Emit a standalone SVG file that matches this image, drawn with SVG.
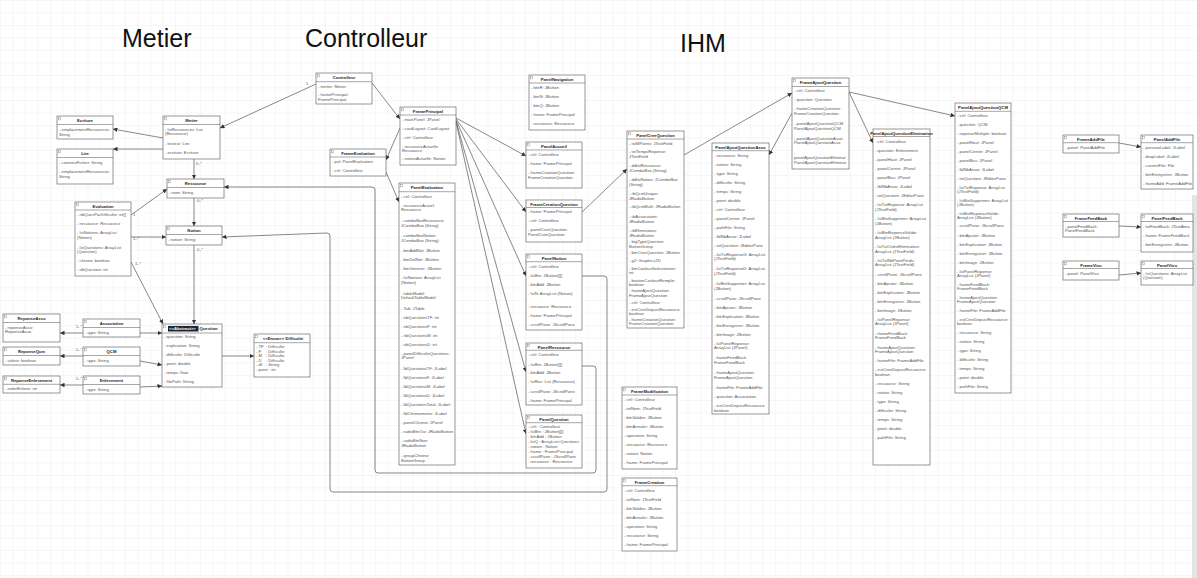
<svg xmlns="http://www.w3.org/2000/svg" width="1197" height="578" viewBox="0 0 1197 578">
<defs>
<pattern id="grid" width="12.5" height="12.5" patternUnits="userSpaceOnUse"><path d="M12.5 0H0V12.5" fill="none" stroke="#e2e2e2" stroke-width="0.6"/></pattern>
<marker id="ar" viewBox="0 0 6 6" refX="6" refY="3" markerWidth="4.5" markerHeight="4.5" markerUnits="userSpaceOnUse" orient="auto"><path d="M0,0L6,3L0,6z" fill="#333"/></marker>
</defs>
<style>
.n rect.b{fill:#fff;stroke:#6b6b6b;stroke-width:0.7}
.n line{stroke:#6b6b6b;stroke-width:0.6}
.n rect.i{fill:none;stroke:#777;stroke-width:0.4}
.h{font-family:"Liberation Sans",Arial,sans-serif;font-size:4.2px;font-weight:bold;fill:#222;text-anchor:middle}
.a{font-family:"Liberation Sans",Arial,sans-serif;font-size:4.2px;fill:#555}
.t{font-family:"Liberation Sans",Arial,sans-serif;font-size:25px;fill:#111}
.c path{fill:none;stroke:#555;stroke-width:0.7;marker-end:url(#ar)}
.l{font-family:"Liberation Sans",Arial,sans-serif;font-size:4px;fill:#555}
</style>
<rect width="1197" height="578" fill="#fff"/>
<rect width="1197" height="578" fill="url(#grid)"/>
<rect x="1192" y="195" width="5" height="383" fill="#e4e4e4"/>

<g id="titles">
<text class="t" x="122" y="47">Metier</text>
<text class="t" x="305" y="47">Controlleur</text>
<text class="t" x="680" y="52">IHM</text>
</g>

<g id="connectors" class="c">
<path d="M316,84L220,128"/>
<path d="M163,138L113,129"/>
<path d="M163,149L113,149"/>
<path d="M194,159L194,179"/>
<path d="M194,198L194,226"/>
<path d="M131,215L167,189"/>
<path d="M131,237L166,237"/>
<path d="M131,262L163,324"/>
<path d="M194,245L194,324"/>
<path d="M83,333L60,333"/>
<path d="M83,356L60,356"/>
<path d="M83,385L60,385"/>
<path d="M140,333L162,333"/>
<path d="M140,361L162,365"/>
<path d="M140,387L162,386"/>
<path d="M222,356L254,356"/>
<path d="M372,83L400,119"/>
<path d="M400,128L386,160"/>
<path d="M386,172L399,202"/>
<path d="M456,118L526,156"/>
<path d="M456,119L526,212"/>
<path d="M456,120L526,276"/>
<path d="M456,121L526,372"/>
<path d="M456,122L526,434"/>
<path d="M582,212L627,169"/>
<path d="M684,155L792,93"/>
<path d="M792,113L769,155"/>
<path d="M849,92L873,143"/>
<path d="M849,92L955,116"/>
<path d="M1119,143L1141,147"/>
<path d="M1119,226L1141,227"/>
<path d="M1119,275L1141,273"/>
<path d="M582,276L604,276Q607,276 607,279L607,489Q607,492 604,492L333,492Q330,492 330,489L330,236Q330,233 327,233L222,237"/>
<path d="M582,366L593,366Q596,366 596,369L596,470Q596,473 593,473L378,473Q375,473 375,470L375,190Q375,187 372,187L224,187"/>
<text class="l" x="306" y="85">1</text>
<text class="l" x="196" y="165">0..*</text>
<text class="l" x="197" y="202">0..*</text>
<text class="l" x="133" y="216">1</text>
<text class="l" x="133" y="240">1..*</text>
<text class="l" x="135" y="265">1..*</text>
<text class="l" x="197" y="251">0..*</text>
<text class="l" x="76" y="328">1..*</text>
<text class="l" x="76" y="351">1..*</text>
<text class="l" x="76" y="380">1..*</text>
</g>

<g id="ecriture" class="n" transform="translate(57,116)"><rect class="b" width="56" height="23"/><line x1="0" y1="8.5" x2="56" y2="8.5"/><rect class="i" x="1.5" y="1.5" width="2" height="2.4"/><text class="h" x="28" y="6.2">Ecriture</text><text class="a" y="14.8"><tspan x="2">- emplacementRessources:</tspan><tspan x="2" dy="4.7">String</tspan></text></g>

<g id="lire" class="n" transform="translate(57,149)"><rect class="b" width="56" height="35"/><line x1="0" y1="8.5" x2="56" y2="8.5"/><rect class="i" x="1.5" y="1.5" width="2" height="2.4"/><text class="h" x="28" y="6.2">Lire</text><text class="a" y="14.8"><tspan x="2">- contenuFichier: String</tspan><tspan x="2" dy="9">- emplacementRessources:</tspan><tspan x="2" dy="4.7">String</tspan></text></g>

<g id="metier" class="n" transform="translate(163,116)"><rect class="b" width="57" height="43"/><line x1="0" y1="8.5" x2="57" y2="8.5"/><rect class="i" x="1.5" y="1.5" width="2" height="2.4"/><text class="h" x="28.5" y="6.2">Metier</text><text class="a" y="14.5"><tspan x="2">- lstRessources: List</tspan><tspan x="2" dy="4.7">(Ressource)</tspan><tspan x="2" dy="10">- lecteur: Lire</tspan><tspan x="2" dy="9">- ecriture: Ecriture</tspan></text></g>

<g id="ressource" class="n" transform="translate(167,179)"><rect class="b" width="57" height="19"/><line x1="0" y1="8.5" x2="57" y2="8.5"/><rect class="i" x="1.5" y="1.5" width="2" height="2.4"/><text class="h" x="28.5" y="6.2">Ressource</text><text class="a" y="15"><tspan x="2">- nom: String</tspan></text></g>

<g id="notion" class="n" transform="translate(166,226)"><rect class="b" width="56" height="19"/><line x1="0" y1="8.5" x2="56" y2="8.5"/><rect class="i" x="1.5" y="1.5" width="2" height="2.4"/><text class="h" x="28" y="6.2">Notion</text><text class="a" y="15"><tspan x="2">- notion: String</tspan></text></g>

<g id="evaluation" class="n" transform="translate(75,202)"><rect class="b" width="56" height="74"/><line x1="0" y1="8" x2="56" y2="8"/><rect class="i" x="1.5" y="1.5" width="2" height="2.4"/><text class="h" x="28" y="6">Evaluation</text><text class="a" y="14"><tspan x="2">- nbQuesParDifficulte: int[]</tspan><tspan x="2" dy="9">- ressource: Ressource</tspan><tspan x="2" dy="9">- lstNotions: ArrayList</tspan><tspan x="2" dy="4.7">(Notion)</tspan><tspan x="2" dy="10">- lstQuestions: ArrayList</tspan><tspan x="2" dy="4.7">(Question)</tspan><tspan x="2" dy="9">- chrono: boolean</tspan><tspan x="2" dy="9">- nbQuestion: int</tspan></text></g>

<g id="question" class="n" transform="translate(162,324)"><rect class="b" width="60" height="63"/><line x1="0" y1="9" x2="60" y2="9"/><rect class="i" x="1.5" y="1.5" width="2" height="2.4"/><rect x="6" y="1.9" width="30.5" height="5.6" fill="#1d2433"/><text class="h" x="7" y="6.3" style="text-anchor:start;fill:#fff">&lt;&lt;Abstract&gt;&gt;</text><text class="h" x="37.5" y="6.3" style="text-anchor:start">Question</text><text class="a" y="14"><tspan x="2">- question: String</tspan><tspan x="2" dy="9">- explication: String</tspan><tspan x="2" dy="9">- difficulte: Difficulte</tspan><tspan x="2" dy="9">- point: double</tspan><tspan x="2" dy="9">- temps: float</tspan><tspan x="2" dy="9">- filePath: String</tspan></text></g>

<g id="difficulte" class="n" transform="translate(254,334)"><rect class="b" width="56" height="43"/><line x1="0" y1="8.7" x2="56" y2="8.7"/><rect class="i" x="1.5" y="1.5" width="2" height="2.4"/><text class="h" x="29" y="6.2">&lt;&lt;Enum&gt;&gt; Difficulte</text><text class="a" y="14.3"><tspan x="2">- TF</tspan><tspan x="2" dy="4.5">- F</tspan><tspan x="2" dy="4.5">- M</tspan><tspan x="2" dy="4.5">- D</tspan><tspan x="2" dy="4.5">- df</tspan><tspan x="2" dy="4.5">- point : int</tspan></text><text class="a" y="14.3"><tspan x="12">: Difficulte</tspan><tspan x="12" dy="4.5">: Difficulte</tspan><tspan x="12" dy="4.5">: Difficulte</tspan><tspan x="12" dy="4.5">: Difficulte</tspan><tspan x="12" dy="4.5">: String</tspan></text></g>

<g id="reponseAsso" class="n" transform="translate(3,314)"><rect class="b" width="57" height="28"/><line x1="0" y1="8.5" x2="57" y2="8.5"/><rect class="i" x="1.5" y="1.5" width="2" height="2.4"/><text class="h" x="28.5" y="6.2">ReponseAsso</text><text class="a" y="14.5"><tspan x="2">- reponseAsso:</tspan><tspan x="2" dy="4.7">ReponseAsso</tspan></text></g>

<g id="reponseQcm" class="n" transform="translate(3,347)"><rect class="b" width="57" height="18"/><line x1="0" y1="8.5" x2="57" y2="8.5"/><rect class="i" x="1.5" y="1.5" width="2" height="2.4"/><text class="h" x="28.5" y="6.2">ReponseQcm</text><text class="a" y="14.5"><tspan x="2">- valeur: boolean</tspan></text></g>

<g id="reponseEnlevement" class="n" transform="translate(3,376)"><rect class="b" width="57" height="17"/><line x1="0" y1="8.3" x2="57" y2="8.3"/><rect class="i" x="1.5" y="1.5" width="2" height="2.4"/><text class="h" x="28.5" y="6.1">ReponseEnlevement</text><text class="a" y="14"><tspan x="2">- ordreEnleve: int</tspan></text></g>

<g id="association" class="n" transform="translate(83,319)"><rect class="b" width="57" height="18"/><line x1="0" y1="8.5" x2="57" y2="8.5"/><rect class="i" x="1.5" y="1.5" width="2" height="2.4"/><text class="h" x="28.5" y="6.2">Association</text><text class="a" y="14.5"><tspan x="2">- type: String</tspan></text></g>

<g id="qcm" class="n" transform="translate(83,347)"><rect class="b" width="57" height="19"/><line x1="0" y1="8.5" x2="57" y2="8.5"/><rect class="i" x="1.5" y="1.5" width="2" height="2.4"/><text class="h" x="28.5" y="6.2">QCM</text><text class="a" y="14.8"><tspan x="2">- type: String</tspan></text></g>

<g id="enlevement" class="n" transform="translate(83,376)"><rect class="b" width="57" height="18"/><line x1="0" y1="8.5" x2="57" y2="8.5"/><rect class="i" x="1.5" y="1.5" width="2" height="2.4"/><text class="h" x="28.5" y="6.2">Enlevement</text><text class="a" y="14.5"><tspan x="2">- type: String</tspan></text></g>

<g id="controlleur" class="n" transform="translate(316,73)"><rect class="b" width="56" height="31"/><line x1="0" y1="8.7" x2="56" y2="8.7"/><rect class="i" x="1.5" y="1.5" width="2" height="2.4"/><text class="h" x="28" y="6.2">Controlleur</text><text class="a" y="14.7"><tspan x="2">- metier: Metier</tspan><tspan x="2" dy="8.3">- framePrincipal:</tspan><tspan x="2" dy="4.7">FramePrincipal</tspan></text></g>

<g id="framePrincipal" class="n" transform="translate(400,107)"><rect class="b" width="56" height="58"/><line x1="0" y1="8" x2="56" y2="8"/><rect class="i" x="1.5" y="1.5" width="2" height="2.4"/><text class="h" x="28" y="6">FramePrincipal</text><text class="a" y="14"><tspan x="2">- mainPanel: JPanel</tspan><tspan x="2" dy="9">- cardLayout: CardLayout</tspan><tspan x="2" dy="9">- ctrl: Controlleur</tspan><tspan x="2" dy="8.5">- ressourceActuelle:</tspan><tspan x="2" dy="4.7">Ressource</tspan><tspan x="2" dy="8.2">- notionActuelle: Notion</tspan></text></g>

<g id="frameEvaluation" class="n" transform="translate(330,149)"><rect class="b" width="56" height="27"/><line x1="0" y1="8" x2="56" y2="8"/><rect class="i" x="1.5" y="1.5" width="2" height="2.4"/><text class="h" x="28" y="6">FrameEvaluation</text><text class="a" y="14.3"><tspan x="2">- pal: PanelEvaluation</tspan><tspan x="2" dy="8.4">- ctrl: Controlleur</tspan></text></g>

<g id="panelEvaluation" class="n" transform="translate(399,183)"><rect class="b" width="56" height="282"/><line x1="0" y1="8.7" x2="56" y2="8.7"/><rect class="i" x="1.5" y="1.5" width="2" height="2.4"/><text class="h" x="28" y="6.3">PanelEvaluation</text><text class="a" y="14.7"><tspan x="2">- ctrl: Controlleur</tspan><tspan x="2" dy="9">- ressourceActuel:</tspan><tspan x="2" dy="4.7">Ressource</tspan><tspan x="2" dy="10.5">- comboBoxRessource:</tspan><tspan x="2" dy="4.7">JComboBox (String)</tspan><tspan x="2" dy="10.5">- comboBoxNotion:</tspan><tspan x="2" dy="4.7">JComboBox (String)</tspan><tspan x="2" dy="10.5">- btnAddNot: JButton</tspan><tspan x="2" dy="9">- btnDelNot: JButton</tspan><tspan x="2" dy="9">- btnGenerer: JButton</tspan><tspan x="2" dy="9">- lstNotions: ArrayList</tspan><tspan x="2" dy="4.7">(Notion)</tspan><tspan x="2" dy="10.5">- tableModel:</tspan><tspan x="2" dy="4.7">DefaultTableModel</tspan><tspan x="2" dy="10.5">- Tab: JTable</tspan><tspan x="2" dy="9">- nbQuestionsTF: int</tspan><tspan x="2" dy="9">- nbQuestionsF: int</tspan><tspan x="2" dy="9">- nbQuestionsM: int</tspan><tspan x="2" dy="9">- nbQuestionsD: int</tspan><tspan x="2" dy="9">- panelDifficulteQuestions:</tspan><tspan x="2" dy="4.7">JPanel</tspan><tspan x="2" dy="10.5">- lblQuestionsTF: JLabel</tspan><tspan x="2" dy="9">- lblQuestionsF: JLabel</tspan><tspan x="2" dy="9">- lblQuestionsM: JLabel</tspan><tspan x="2" dy="9">- lblQuestionsD: JLabel</tspan><tspan x="2" dy="9">- lblQuestionsTotal: JLabel</tspan><tspan x="2" dy="9">- lblChronometre: JLabel</tspan><tspan x="2" dy="9">- panelChrono: JPanel</tspan><tspan x="2" dy="9">- radioBtnOui: JRadioButton</tspan><tspan x="2" dy="9">- radioBtnNon:</tspan><tspan x="2" dy="4.7">JRadioButton</tspan><tspan x="2" dy="10.5">- groupChrono:</tspan><tspan x="2" dy="4.7">ButtonGroup</tspan></text></g>

<g id="panelNavigation" class="n" transform="translate(529,75)"><rect class="b" width="56" height="55"/><line x1="0" y1="8" x2="56" y2="8"/><rect class="i" x="1.5" y="1.5" width="2" height="2.4"/><text class="h" x="28" y="6">PanelNavigation</text><text class="a" y="14"><tspan x="2">- btnR: JButton</tspan><tspan x="2" dy="9">- btnN: JButton</tspan><tspan x="2" dy="9">- btnQ: JButton</tspan><tspan x="2" dy="9">- frame: FramePrincipal</tspan><tspan x="2" dy="9">- ressource: Ressource</tspan></text></g>

<g id="panelAccueil" class="n" transform="translate(526,142)"><rect class="b" width="56" height="46"/><line x1="0" y1="8" x2="56" y2="8"/><rect class="i" x="1.5" y="1.5" width="2" height="2.4"/><text class="h" x="28" y="6">PanelAccueil</text><text class="a" y="14"><tspan x="2">- ctrl: Controlleur</tspan><tspan x="2" dy="9">- frame: FramePrincipal</tspan><tspan x="2" dy="9">- frameCreationQuestion:</tspan><tspan x="2" dy="4.7">FrameCreationQuestion</tspan></text></g>

<g id="frameCreationQuestion" class="n" transform="translate(526,200)"><rect class="b" width="56" height="42"/><line x1="0" y1="7.5" x2="56" y2="7.5"/><text class="h" x="28" y="5.6">FrameCreationQuestion</text><text class="a" y="12.7"><tspan x="2">- frame: FramePrincipal</tspan><tspan x="2" dy="9.3">- ctrl: Controlleur</tspan><tspan x="2" dy="9">- panelCreeQuestion:</tspan><tspan x="2" dy="4.7">PanelCreeQuestion</tspan></text></g>

<g id="panelNotion" class="n" transform="translate(526,254)"><rect class="b" width="56" height="76"/><line x1="0" y1="7.7" x2="56" y2="7.7"/><rect class="i" x="1.5" y="1.5" width="2" height="2.4"/><text class="h" x="28" y="5.8">PanelNotion</text><text class="a" y="13.7"><tspan x="2">- ctrl: Controlleur</tspan><tspan x="2" dy="9">- lstBtn: JButton[][]</tspan><tspan x="2" dy="9">- btnAdd: JButton</tspan><tspan x="2" dy="9.3">- lstN: ArrayList (Notion)</tspan><tspan x="2" dy="13.3">- ressource: Ressource</tspan><tspan x="2" dy="8.4">- frame: FramePrincipal</tspan><tspan x="2" dy="9.3">- scrollPane: JScrollPane</tspan></text></g>

<g id="panelRessource" class="n" transform="translate(526,343)"><rect class="b" width="56" height="62"/><line x1="0" y1="7.3" x2="56" y2="7.3"/><rect class="i" x="1.5" y="1.5" width="2" height="2.4"/><text class="h" x="28" y="5.6">PanelRessource</text><text class="a" y="12.7"><tspan x="2">- ctrl: Controlleur</tspan><tspan x="2" dy="10">- lstBtn: JButton[][]</tspan><tspan x="2" dy="8.6">- btnAdd: JButton</tspan><tspan x="2" dy="9">- lstRes: List (Ressource)</tspan><tspan x="2" dy="9.4">- scrollPane: JScrollPane</tspan><tspan x="2" dy="9">- frame: FramePrincipal</tspan></text></g>

<g id="panelQuestion" class="n" transform="translate(526,415)"><rect class="b" width="56" height="53"/><line x1="0" y1="7.7" x2="56" y2="7.7"/><rect class="i" x="1.5" y="1.5" width="2" height="2.4"/><text class="h" x="28" y="5.8">PanelQuestion</text><text class="a" y="13.3"><tspan x="2">- ctrl : Controlleur</tspan><tspan x="2" dy="5">- lstBtn : JButton[][]</tspan><tspan x="2" dy="5">- btnAdd : JButton</tspan><tspan x="2" dy="5">- lstQ : ArrayList&lt;Question&gt;</tspan><tspan x="2" dy="5">- notion : Notion</tspan><tspan x="2" dy="5">- frame : FramePrincipal</tspan><tspan x="2" dy="5">- scrollPane : JScrollPane</tspan><tspan x="2" dy="5">- ressource : Ressource</tspan></text></g>

<g id="panelCreeQuestion" class="n" transform="translate(627,131)"><rect class="b" width="57" height="197"/><line x1="0" y1="8" x2="57" y2="8"/><rect class="i" x="1.5" y="1.5" width="2" height="2.4"/><text class="h" x="28.5" y="6">PanelCreeQuestion</text><text class="a" y="14"><tspan x="2">- txtMPoints: JTextField</tspan><tspan x="2" dy="8.3">- txtTempsReponse:</tspan><tspan x="2" dy="4.8">JTextField</tspan><tspan x="2" dy="8.6">- ddlstRessource:</tspan><tspan x="2" dy="4.8">JComboBox (String)</tspan><tspan x="2" dy="9.5">- ddlstNotion: JComboBox</tspan><tspan x="2" dy="4.7">(String)</tspan><tspan x="2" dy="9.3">- rbQcmUnique:</tspan><tspan x="2" dy="4.5">JRadioButton</tspan><tspan x="2" dy="8.8">- rbQcmMulti: JRadioButton</tspan><tspan x="2" dy="9.4">- rbAssociation:</tspan><tspan x="2" dy="4.8">JRadioButton</tspan><tspan x="2" dy="9.5">- rbElimination:</tspan><tspan x="2" dy="4.7">JRadioButton</tspan><tspan x="2" dy="6.3">- btgTypeQuestion:</tspan><tspan x="2" dy="4.7">ButtonGroup</tspan><tspan x="2" dy="6.6">- btnCreeQuestion: JButton</tspan><tspan x="2" dy="7.2">- g2: Graphics2D</tspan><tspan x="2" dy="8">- btnCouleurSelectionner:</tspan><tspan x="2" dy="4.7">int</tspan><tspan x="2" dy="7.3">- boutonCouleurRemplie:</tspan><tspan x="2" dy="4.7">boolean</tspan><tspan x="2" dy="5.8">- frameAjoutQuestion:</tspan><tspan x="2" dy="4.7">FrameAjoutQuestion</tspan><tspan x="2" dy="6.8">- ctrl: Controlleur</tspan><tspan x="2" dy="7">- estCreeDepuisRessource:</tspan><tspan x="2" dy="4.7">boolean</tspan><tspan x="2" dy="5.3">- frameCreationQuestion:</tspan><tspan x="2" dy="4.5">FrameCreationQuestion</tspan></text></g>

<g id="frameModification" class="n" transform="translate(622,387)"><rect class="b" width="55" height="82"/><line x1="0" y1="8" x2="55" y2="8"/><rect class="i" x="1.5" y="1.5" width="2" height="2.4"/><text class="h" x="27.5" y="6">FrameModification</text><text class="a" y="14"><tspan x="2">- ctrl: Controlleur</tspan><tspan x="2" dy="9">- txtNom: JTextField</tspan><tspan x="2" dy="9">- btnValider: JButton</tspan><tspan x="2" dy="9">- btnAnnuler: JButton</tspan><tspan x="2" dy="9">- operation: String</tspan><tspan x="2" dy="9">- ressource: Ressource</tspan><tspan x="2" dy="9">- notion: Notion</tspan><tspan x="2" dy="9">- frame: FramePrincipal</tspan></text></g>

<g id="frameCreation" class="n" transform="translate(622,478)"><rect class="b" width="55" height="73"/><line x1="0" y1="7.7" x2="55" y2="7.7"/><rect class="i" x="1.5" y="1.5" width="2" height="2.4"/><text class="h" x="27.5" y="5.8">FrameCreation</text><text class="a" y="13.5"><tspan x="2">- ctrl: Controlleur</tspan><tspan x="2" dy="9">- txtNom: JTextField</tspan><tspan x="2" dy="9">- btnValider: JButton</tspan><tspan x="2" dy="9">- btnAnnuler: JButton</tspan><tspan x="2" dy="9">- operation: String</tspan><tspan x="2" dy="9">- ressource: String</tspan><tspan x="2" dy="9">- frame: FramePrincipal</tspan></text></g>

<g id="frameAjoutQuestion" class="n" transform="translate(792,78)"><rect class="b" width="57" height="91"/><line x1="0" y1="8.5" x2="57" y2="8.5"/><rect class="i" x="1.5" y="1.5" width="2" height="2.4"/><text class="h" x="28.5" y="6.2">FrameAjoutQuestion</text><text class="a" y="14.3"><tspan x="2">- ctrl: Controlleur</tspan><tspan x="2" dy="9">- question: Question</tspan><tspan x="2" dy="9">- frameCreationQuestion:</tspan><tspan x="2" dy="4.7">FrameCreationQuestion</tspan><tspan x="2" dy="10">- panelAjoutQuestionQCM:</tspan><tspan x="2" dy="4.7">PanelAjoutQuestionQCM</tspan><tspan x="2" dy="10">- panelAjoutQuestionAsso:</tspan><tspan x="2" dy="4.7">PanelAjoutQuestionAsso</tspan><tspan x="2" dy="10">-</tspan><tspan x="2" dy="4.7">panelAjoutQuestionEliminat</tspan><tspan x="2" dy="4.7">PanelAjoutQuestionEliminat</tspan></text></g>

<g id="panelAjoutQuestionAsso" class="n" transform="translate(712,143)"><rect class="b" width="57" height="271"/><line x1="0" y1="7.7" x2="57" y2="7.7"/><text class="h" x="28.5" y="5.8">PanelAjoutQuestionAsso</text><text class="a" y="13.7"><tspan x="2">- ressource: String</tspan><tspan x="2" dy="9">- notion: String</tspan><tspan x="2" dy="9">- type: String</tspan><tspan x="2" dy="9">- difficulte: String</tspan><tspan x="2" dy="9">- temps: String</tspan><tspan x="2" dy="9">- point: double</tspan><tspan x="2" dy="9">- ctrl: Controlleur</tspan><tspan x="2" dy="9">- panelCentre: JPanel</tspan><tspan x="2" dy="9">- pathFile: String</tspan><tspan x="2" dy="9">- lblNbAnsw: JLabel</tspan><tspan x="2" dy="9">- txtQuestion: JEditorPane</tspan><tspan x="2" dy="9">- lstTxtReponseG: ArrayList</tspan><tspan x="2" dy="4.7">(JTextField)</tspan><tspan x="2" dy="10">- lstTxtReponseD: ArrayList</tspan><tspan x="2" dy="4.7">(JTextField)</tspan><tspan x="2" dy="10">- lstBtnSupprimer: ArrayList</tspan><tspan x="2" dy="4.7">(JButton)</tspan><tspan x="2" dy="10">- scrollPane: JScrollPane</tspan><tspan x="2" dy="9">- btnAjouter: JButton</tspan><tspan x="2" dy="9">- btnExplication: JButton</tspan><tspan x="2" dy="9">- btnEnregistrer: JButton</tspan><tspan x="2" dy="9">- btnImage: JButton</tspan><tspan x="2" dy="9">- lstPanelReponse:</tspan><tspan x="2" dy="4.7">ArrayList (JPanel)</tspan><tspan x="2" dy="10">- frameFeedBack:</tspan><tspan x="2" dy="4.7">FrameFeedBack</tspan><tspan x="2" dy="10">- frameAjoutQuestion:</tspan><tspan x="2" dy="4.7">FrameAjoutQuestion</tspan><tspan x="2" dy="10">- frameFile: FrameAddFile</tspan><tspan x="2" dy="9">- question: Association</tspan><tspan x="2" dy="9">- estCreeDepuisRessource:</tspan><tspan x="2" dy="4.7">boolean</tspan></text></g>

<g id="panelAjoutQuestionElimination" class="n" transform="translate(873,129)"><rect class="b" width="57" height="336"/><line x1="0" y1="7.5" x2="57" y2="7.5"/><text class="h" x="28.5" y="5.7">PanelAjoutQuestionElimination</text><text class="a" y="14.3"><tspan x="2">- ctrl: Controlleur</tspan><tspan x="2" dy="9">- question: Enlevement</tspan><tspan x="2" dy="9">- panelHaut: JPanel</tspan><tspan x="2" dy="9">- panelCentre: JPanel</tspan><tspan x="2" dy="9">- panelBas: JPanel</tspan><tspan x="2" dy="9">- lblNbAnsw: JLabel</tspan><tspan x="2" dy="9">- txtQuestion: JEditorPane</tspan><tspan x="2" dy="9">- lstTxtReponse: ArrayList</tspan><tspan x="2" dy="4.5">(JTextField)</tspan><tspan x="2" dy="9.4">- lstBtnSupprimer: ArrayList</tspan><tspan x="2" dy="4.5">(JButton)</tspan><tspan x="2" dy="9.4">- lstBtnReponseValide:</tspan><tspan x="2" dy="4.5">ArrayList (JButton)</tspan><tspan x="2" dy="9.4">- lstTxtOrdreElimination:</tspan><tspan x="2" dy="4.5">ArrayList (JTextField)</tspan><tspan x="2" dy="9.4">- lstTxtNbPointPerdu:</tspan><tspan x="2" dy="4.5">ArrayList (JTextField)</tspan><tspan x="2" dy="9.4">- scrollPane: JScrollPane</tspan><tspan x="2" dy="9">- btnAjouter: JButton</tspan><tspan x="2" dy="9">- btnExplication: JButton</tspan><tspan x="2" dy="9">- btnEnregistrer: JButton</tspan><tspan x="2" dy="9">- btnImage: JButton</tspan><tspan x="2" dy="9">- lstPanelReponse:</tspan><tspan x="2" dy="4.5">ArrayList (JPanel)</tspan><tspan x="2" dy="9.4">- frameFeedBack:</tspan><tspan x="2" dy="4.5">FrameFeedBack</tspan><tspan x="2" dy="9.4">- frameAjoutQuestion:</tspan><tspan x="2" dy="4.5">FrameAjoutQuestion</tspan><tspan x="2" dy="9.4">- frameFile: FrameAddFile</tspan><tspan x="2" dy="9">- estCreeDepuisRessource:</tspan><tspan x="2" dy="4.5">boolean</tspan><tspan x="2" dy="9.4">- ressource: String</tspan><tspan x="2" dy="9">- notion: String</tspan><tspan x="2" dy="9">- type: String</tspan><tspan x="2" dy="9">- difficulte: String</tspan><tspan x="2" dy="9">- temps: String</tspan><tspan x="2" dy="9">- point: double</tspan><tspan x="2" dy="9">- pathFile: String</tspan></text></g>

<g id="panelAjoutQuestionQCM" class="n" transform="translate(955,103)"><rect class="b" width="56" height="290"/><line x1="0" y1="8.3" x2="56" y2="8.3"/><text class="h" x="28" y="6">PanelAjoutQuestionQCM</text><text class="a" y="13.7"><tspan x="2">- ctrl: Controlleur</tspan><tspan x="2" dy="9">- question: QCM</tspan><tspan x="2" dy="9">- reponseMultiple: boolean</tspan><tspan x="2" dy="9">- panelHaut: JPanel</tspan><tspan x="2" dy="9">- panelCentre: JPanel</tspan><tspan x="2" dy="9">- panelBas: JPanel</tspan><tspan x="2" dy="9">- lblNbAnsw: JLabel</tspan><tspan x="2" dy="9">- txtQuestion: JEditorPane</tspan><tspan x="2" dy="9">- lstTxtReponse: ArrayList</tspan><tspan x="2" dy="4.3">(JTextField)</tspan><tspan x="2" dy="8.6">- lstBtnSupprimer: ArrayList</tspan><tspan x="2" dy="4.3">(JButton)</tspan><tspan x="2" dy="8.6">- lstBtnReponseValide:</tspan><tspan x="2" dy="4.3">ArrayList (JButton)</tspan><tspan x="2" dy="8.6">- scrollPane: JScrollPane</tspan><tspan x="2" dy="9.1">- btnAjouter: JButton</tspan><tspan x="2" dy="9.1">- btnExplication: JButton</tspan><tspan x="2" dy="9.1">- btnEnregistrer: JButton</tspan><tspan x="2" dy="9.1">- btnImage: JButton</tspan><tspan x="2" dy="9.1">- lstPanelReponse:</tspan><tspan x="2" dy="4.3">ArrayList (JPanel)</tspan><tspan x="2" dy="8.6">- frameFeedBack:</tspan><tspan x="2" dy="4.3">FrameFeedBack</tspan><tspan x="2" dy="8.6">- frameAjoutQuestion:</tspan><tspan x="2" dy="4.3">FrameAjoutQuestion</tspan><tspan x="2" dy="8.6">- frameFile: FrameAddFile</tspan><tspan x="2" dy="9.1">- estCreeDepuisRessource:</tspan><tspan x="2" dy="4.3">boolean</tspan><tspan x="2" dy="8.6">- ressource: String</tspan><tspan x="2" dy="9.1">- notion: String</tspan><tspan x="2" dy="9.1">- type: String</tspan><tspan x="2" dy="9.1">- difficulte: String</tspan><tspan x="2" dy="9.1">- temps: String</tspan><tspan x="2" dy="9.1">- point: double</tspan><tspan x="2" dy="9.1">- pathFile: String</tspan></text></g>

<g id="frameAddFile" class="n" transform="translate(1063,135)"><rect class="b" width="56" height="18"/><line x1="0" y1="7.7" x2="56" y2="7.7"/><rect class="i" x="1.5" y="1.5" width="2" height="2.4"/><text class="h" x="28" y="5.8">FrameAddFile</text><text class="a" y="14"><tspan x="2">- panel: PanelAddFile</tspan></text></g>

<g id="panelAddFile" class="n" transform="translate(1141,135)"><rect class="b" width="52" height="54"/><line x1="0" y1="7.7" x2="52" y2="7.7"/><rect class="i" x="1.5" y="1.5" width="2" height="2.4"/><text class="h" x="26" y="5.8">PanelAddFile</text><text class="a" y="14"><tspan x="2">- previewLabel: JLabel</tspan><tspan x="2" dy="9">- dropLabel: JLabel</tspan><tspan x="2" dy="9">- currentFile: File</tspan><tspan x="2" dy="9">- btnEnregistrer: JButton</tspan><tspan x="2" dy="9">- frameAdd: FrameAddFile</tspan></text></g>

<g id="frameFeedBack" class="n" transform="translate(1063,214)"><rect class="b" width="56" height="23"/><line x1="0" y1="7.5" x2="56" y2="7.5"/><rect class="i" x="1.5" y="1.5" width="2" height="2.4"/><text class="h" x="28" y="5.7">FrameFeedBack</text><text class="a" y="13.5"><tspan x="2">- panelFeedBack:</tspan><tspan x="2" dy="4.7">PanelFeedBack</tspan></text></g>

<g id="panelFeedBack" class="n" transform="translate(1141,214)"><rect class="b" width="52" height="38"/><line x1="0" y1="7.5" x2="52" y2="7.5"/><rect class="i" x="1.5" y="1.5" width="2" height="2.4"/><text class="h" x="26" y="5.7">PanelFeedBack</text><text class="a" y="13.5"><tspan x="2">- txtFeedBack: JTextArea</tspan><tspan x="2" dy="9">- frame: FrameFeedBack</tspan><tspan x="2" dy="9.3">- btnEnregistrer: JButton</tspan></text></g>

<g id="frameVisu" class="n" transform="translate(1063,261)"><rect class="b" width="56" height="19"/><line x1="0" y1="7.5" x2="56" y2="7.5"/><rect class="i" x="1.5" y="1.5" width="2" height="2.4"/><text class="h" x="28" y="5.7">FrameVisu</text><text class="a" y="13.5"><tspan x="2">- panel: PanelVisu</tspan></text></g>

<g id="panelVisu" class="n" transform="translate(1141,261)"><rect class="b" width="52" height="24"/><line x1="0" y1="7.5" x2="52" y2="7.5"/><rect class="i" x="1.5" y="1.5" width="2" height="2.4"/><text class="h" x="26" y="5.7">PanelVisu</text><text class="a" y="13.5"><tspan x="2">- lstQuestions: ArrayList</tspan><tspan x="2" dy="4.7">(Question)</tspan></text></g>
</svg>
